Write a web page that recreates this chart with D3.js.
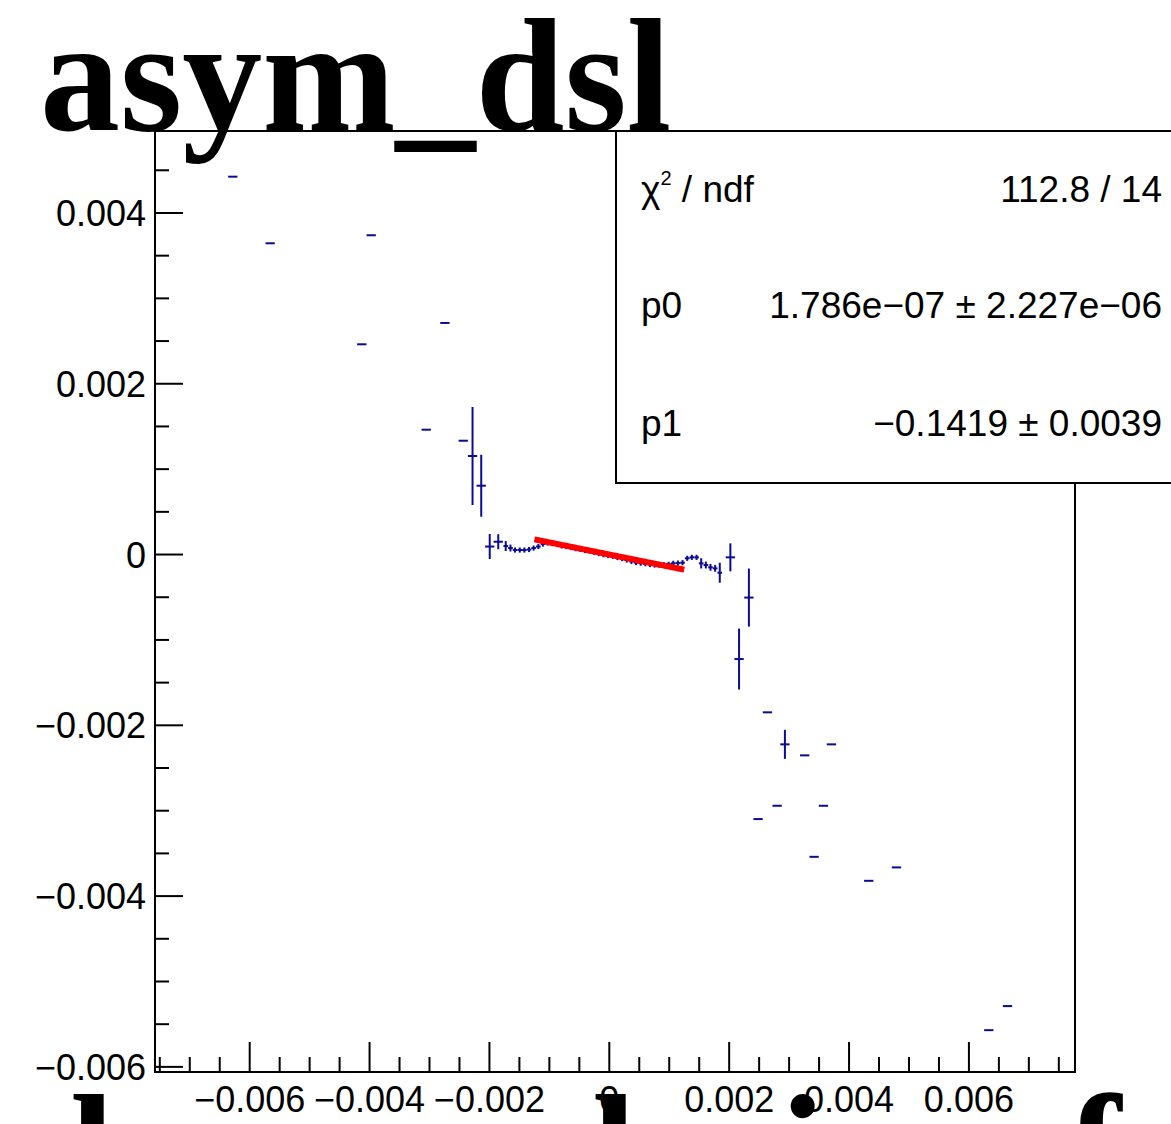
<!DOCTYPE html>
<html><head><meta charset="utf-8">
<script src="https://cdn.jsdelivr.net/npm/d3@7"></script>
<style>html,body{margin:0;padding:0;background:#fff;overflow:hidden}</style>
</head><body>
<script>
// ---- data ----
const title = "asym_dsl";
const xCenters = [
 -0.006282,-0.005659,-0.004129,-0.003973,-0.003055,-0.002743,-0.002437,-0.002282,-0.002137,-0.001995,-0.001853,
 -0.001728,-0.001649,-0.001573,-0.001494,-0.001417,-0.001339,-0.001262,-0.001184,-0.001107,-0.001029,
 -0.000952,-0.000873,-0.000796,-0.000718,-0.000641,-0.000563,-0.000486,-0.000407,-0.000331,-0.000252,
 -0.000175,-0.000097,-0.000020,0.000058,0.000135,0.000214,0.000291,0.000369,0.000446,0.000524,
 0.000601,0.000679,0.000756,0.000835,0.000912,0.000990,0.001067,0.001145,0.001222,0.001300,
 0.001377,0.001456,0.001533,0.001611,0.001688,0.001766,0.001843,
 0.002020,0.002165,0.002329,0.002482,0.002638,0.002800,0.002930,0.003260,0.003417,0.003573,0.003706,0.004329,0.004791,0.006332,0.006644];
const xHalfWidths = [
 0.0000776,0.0000776,0.0000776,0.0000776,0.0000776,0.0000776,0.0000776,0.0000776,0.0000776,0.0000776,0.0000776,
 0.0000388,0.0000388,0.0000388,0.0000388,0.0000388,0.0000388,0.0000388,0.0000388,0.0000388,0.0000388,
 0.0000388,0.0000388,0.0000388,0.0000388,0.0000388,0.0000388,0.0000388,0.0000388,0.0000388,0.0000388,
 0.0000388,0.0000388,0.0000388,0.0000388,0.0000388,0.0000388,0.0000388,0.0000388,0.0000388,0.0000388,
 0.0000388,0.0000388,0.0000388,0.0000388,0.0000388,0.0000388,0.0000388,0.0000388,0.0000388,0.0000388,
 0.0000388,0.0000388,0.0000388,0.0000388,0.0000388,0.0000388,0.0000388,
 0.0000776,0.0000776,0.0000776,0.0000776,0.0000776,0.0000776,0.0000776,0.0000776,0.0000776,0.0000776,0.0000776,0.0000776,0.0000776,0.0000776,0.0000776];
const yValues = [
 0.004425,0.003645,0.002462,0.003739,0.001462,0.002712,0.001333,0.001154,0.000806,0.0000937,0.000150,
 0.0000996,0.0000761,0.0000527,0.0000527,0.0000527,0.0000586,0.0000761,0.0000937,0.000123,0.000135,
 0.000128,0.000117,0.000101,0.000094,0.000082,0.000069,0.000061,0.000047,0.000041,0.000024,
 0.000012,-0.000003,-0.000012,-0.000021,-0.000035,-0.000047,-0.000064,-0.000080,-0.000094,-0.000101,
 -0.000108,-0.000117,-0.000123,-0.000125,-0.000119,-0.000115,-0.000103,-0.000100,-0.000096,-0.000044,
 -0.000033,-0.000033,-0.000103,-0.000123,-0.000150,-0.000162,-0.000213,
 -0.0000328,-0.001224,-0.000504,-0.003098,-0.001848,-0.002942,-0.002223,-0.002352,-0.003540,-0.002942,-0.002223,-0.003821,-0.003664,-0.005570,-0.005288];
const yErrors = [
 0.000003,0.000003,0.000003,0.000003,0.000003,0.000003,0.000003,0.000574,0.000363,0.000146,0.0000878,
 0.000058,0.00004,0.00003,0.00003,0.00003,0.00003,0.00003,0.00003,0.00003,0.00003,
 0.00003,0.00003,0.00003,0.00003,0.00003,0.00003,0.00003,0.00003,0.00003,0.00003,
 0.00003,0.00003,0.00003,0.00003,0.00003,0.00003,0.00003,0.00003,0.00003,0.00003,
 0.00003,0.00003,0.00003,0.00003,0.00003,0.00003,0.00003,0.00003,0.00003,0.00003,
 0.00003,0.00003,0.00006,0.00004,0.00004,0.00004,0.000117,
 0.000164,0.000357,0.000340,0.000003,0.000003,0.000003,0.000170,0.000003,0.000003,0.000003,0.000003,0.000003,0.000003,0.000003,0.000003];
const fitP0 = 1.786e-07, fitP1 = -0.1419;
const fitRange = [-0.00125, 0.00125];
const xMajorTicks = [-0.006,-0.004,-0.002,0,0.002,0.004,0.006];
const xTickLabels = ["\u22120.006","\u22120.004","\u22120.002","0","0.002","0.004","0.006"];
const yMajorTicks = [-0.006,-0.004,-0.002,0,0.002,0.004];
const yTickLabels = ["\u22120.006","\u22120.004","\u22120.002","0","0.002","0.004"];
const statsLabels = ["\u03C7", "p0", "p1"];
const statsValues = ["112.8 / 14", "1.786e\u221207 \u00B1 2.227e\u221206", "\u22120.1419 \u00B1 0.0039"];

// ---- drawing ----
const W = 1171, H = 1124;
const frame = {l:155, r:1075, t:131, b:1072};
const svg = d3.select("body").append("svg").attr("width",W).attr("height",H);
svg.append("rect").attr("width",W).attr("height",H).attr("fill","#fff");

const x = d3.scaleLinear().domain([-0.00758, 0.00777]).range([frame.l, frame.r]);
const y = d3.scaleLinear().domain([-0.00606, 0.00496]).range([frame.b, frame.t]);

const sans = "'Liberation Sans', Arial, Helvetica, sans-serif";
const serif = "'Liberation Serif', 'Times New Roman', serif";

// big cut-off text at the bottom (another title below, mostly outside the canvas)
const bottom = svg.append("g").attr("font-family",serif).attr("font-weight","bold").attr("font-size",160).attr("fill","#000");
[["l",70],["l",592],["i",780],["f",1068]].forEach(([t,px])=>bottom.append("text").attr("x",px).attr("y",1206).text(t));

// frame
svg.append("rect").attr("x",frame.l).attr("y",frame.t).attr("width",frame.r-frame.l).attr("height",frame.b-frame.t)
  .attr("fill","none").attr("stroke","#000").attr("stroke-width",2);

// axis ticks (inward)
const xMinor = d3.range(-0.0075, 0.00751, 0.0005);
const gx = svg.append("g").attr("stroke","#000").attr("stroke-width",2);
xMinor.forEach(v=>{
  const isMajor = xMajorTicks.some(m=>Math.abs(m-v)<1e-9);
  gx.append("line").attr("x1",x(v)).attr("x2",x(v)).attr("y1",frame.b).attr("y2",frame.b-(isMajor?30:15));
});
const yMinor = d3.range(-0.006, 0.00451, 0.0005);
yMinor.forEach(v=>{
  const isMajor = yMajorTicks.some(m=>Math.abs(m-v)<1e-9);
  gx.append("line").attr("y1",y(v)).attr("y2",y(v)).attr("x1",frame.l).attr("x2",frame.l+(isMajor?28:14));
});
// labels
const gl = svg.append("g").attr("font-family",sans).attr("font-size",36).attr("fill","#000");
xMajorTicks.forEach((v,i)=>gl.append("text").attr("x",x(v)).attr("y",1112).attr("text-anchor","middle").text(xTickLabels[i]));
yMajorTicks.forEach((v,i)=>gl.append("text").attr("x",146).attr("y",y(v)+13).attr("text-anchor","end").text(yTickLabels[i]));

// data points with error bars
const gp = svg.append("g").attr("stroke","#0b0b96").attr("stroke-width",2).attr("fill","none");
xCenters.forEach((xc,i)=>{
  gp.append("line").attr("x1",x(xc-xHalfWidths[i])).attr("x2",x(xc+xHalfWidths[i])).attr("y1",y(yValues[i])).attr("y2",y(yValues[i]));
  gp.append("line").attr("x1",x(xc)).attr("x2",x(xc)).attr("y1",y(yValues[i]-yErrors[i])).attr("y2",y(yValues[i]+yErrors[i]));
});

// fit line
const fx = d3.range(fitRange[0], fitRange[1]+1e-12, (fitRange[1]-fitRange[0])/100);
svg.append("path").datum(fx).attr("fill","none").attr("stroke","#ff0000").attr("stroke-width",6)
  .attr("d", d3.line().x(v=>x(v)).y(v=>y(fitP0+fitP1*v)));

// stats box
svg.append("rect").attr("x",616).attr("y",131).attr("width",620).attr("height",352)
  .attr("fill","#fff").attr("stroke","#000").attr("stroke-width",2);
const gs = svg.append("g").attr("font-family",sans).attr("font-size",37).attr("fill","#000");
const rowY = [202, 318, 436];
const t0 = gs.append("text").attr("x",641).attr("y",rowY[0]);
t0.append("tspan").text(statsLabels[0]);
t0.append("tspan").attr("font-size",20).attr("dy",-17).text("2");
t0.append("tspan").attr("dy",17).text(" / ndf");
gs.append("text").attr("x",641).attr("y",rowY[1]).text(statsLabels[1]);
gs.append("text").attr("x",641).attr("y",rowY[2]).text(statsLabels[2]);
statsValues.forEach((s,i)=>gs.append("text").attr("x",1162).attr("y",rowY[i]).attr("text-anchor","end").text(s));

// title
svg.append("text").attr("x",40).attr("y",130).attr("font-family",serif).attr("font-weight","bold")
  .attr("font-size",160).attr("fill","#000").text(title);
</script>
</body></html>
